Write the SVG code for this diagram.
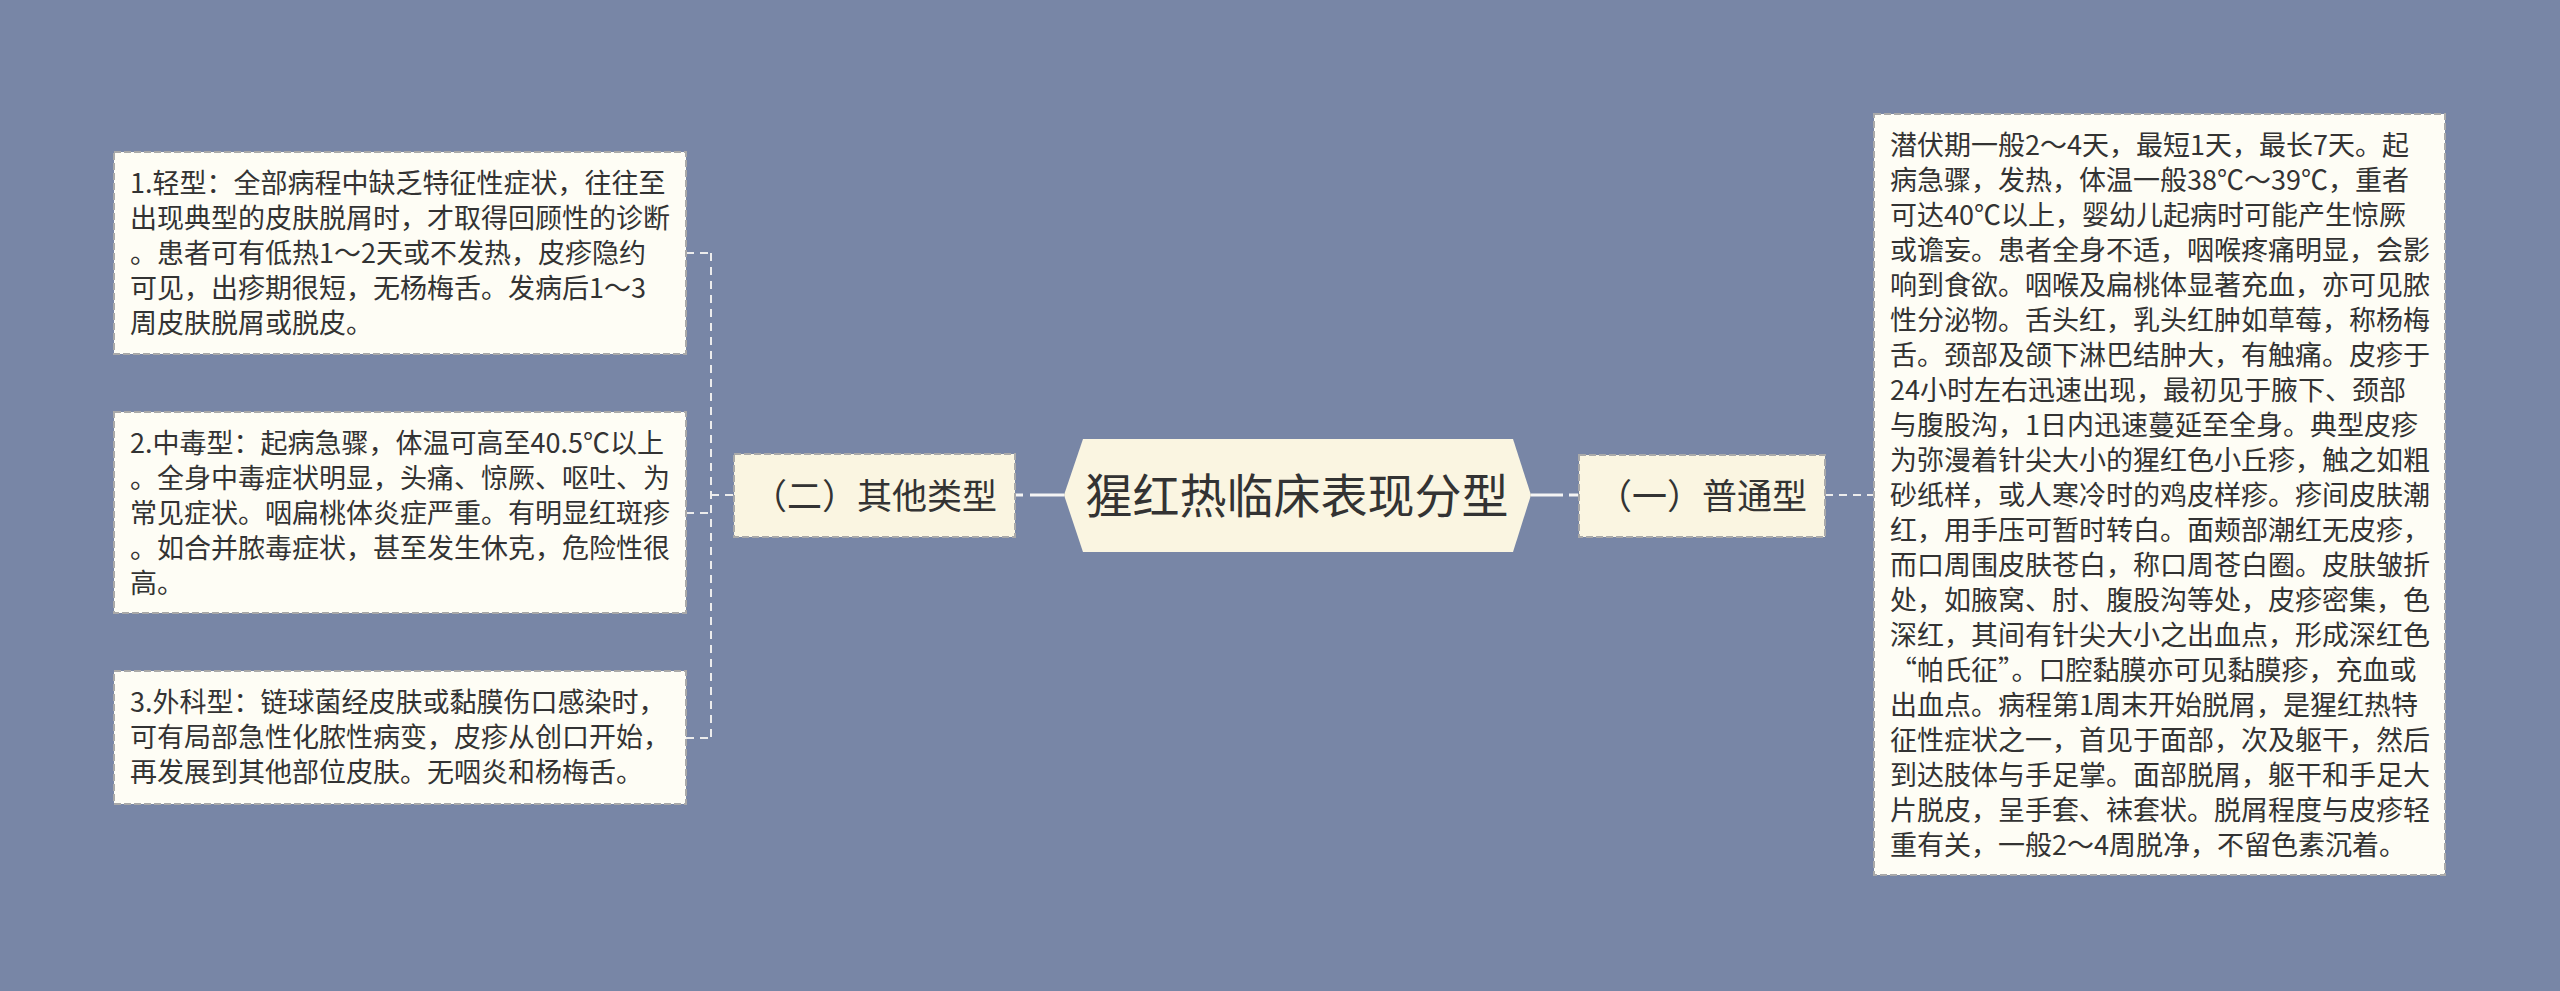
<svg xmlns="http://www.w3.org/2000/svg" width="2560" height="991" viewBox="0 0 2560 991">
<style>
.bg{fill:#7886A6}
.leaf{fill:#FEFDF5;stroke:#A9A9A9;stroke-width:2;stroke-dasharray:7 3}
.mid{fill:#FAF5E1;stroke:#A9A9A9;stroke-width:2;stroke-dasharray:7 3}
.root{fill:#FAF5E1}
.t{font-family:"Noto Sans CJK SC","Noto Sans",sans-serif;fill:#333333}
.s{font-size:27px}
.m{font-size:35px}
.r{font-size:47px}
.dash{fill:none;stroke:#ECECEC;stroke-width:2;stroke-dasharray:8 6}
.solid{fill:none;stroke:#F4F4F4;stroke-width:3}
</style>
<rect class="bg" x="0" y="0" width="2560" height="991"/>
<g id="connectors">
<path class="dash" d="M711 253 V738"/>
<path class="dash" d="M686 253 H711"/>
<path class="dash" d="M686 513 H711"/>
<path class="dash" d="M686 738 H711"/>
<path class="dash" d="M711 495 H734"/>
<path class="solid" d="M1030 495 H1064"/>
<path class="solid" d="M1016 495 H1023"/>
<path class="solid" d="M1531 495 H1563"/>
<path class="solid" d="M1569 495 H1578"/>
<path class="dash" d="M1825 495 H1873"/>
</g>
<g id="root">
<polygon class="root" points="1064,495 1083,439 1513,439 1531,495 1513,552 1083,552"/>
<text class="t r" x="1297" y="513" text-anchor="middle">猩红热临床表现分型</text>
</g>
<g id="n2">
<rect class="mid" x="734" y="454" width="281" height="83"/>
<text class="t m" x="874.5" y="509" text-anchor="middle">（二）其他类型</text>
</g>
<g id="n1">
<rect class="mid" x="1579" y="455" width="246" height="82"/>
<text class="t m" x="1702" y="509" text-anchor="middle">（一）普通型</text>
</g>
<g id="leaf1">
<rect class="leaf" x="114" y="152" width="572" height="202"/>
<text class="t s">
<tspan x="130" y="193">1.轻型：全部病程中缺乏特征性症状，往往至</tspan>
<tspan x="130" y="228">出现典型的皮肤脱屑时，才取得回顾性的诊断</tspan>
<tspan x="130" y="263">。患者可有低热1～2天或不发热，皮疹隐约</tspan>
<tspan x="130" y="298">可见，出疹期很短，无杨梅舌。发病后1～3</tspan>
<tspan x="130" y="333">周皮肤脱屑或脱皮。</tspan>
</text>
</g>
<g id="leaf2">
<rect class="leaf" x="114" y="412" width="572" height="201"/>
<text class="t s">
<tspan x="130" y="453">2.中毒型：起病急骤，体温可高至40.5℃以上</tspan>
<tspan x="130" y="488">。全身中毒症状明显，头痛、惊厥、呕吐、为</tspan>
<tspan x="130" y="523">常见症状。咽扁桃体炎症严重。有明显红斑疹</tspan>
<tspan x="130" y="558">。如合并脓毒症状，甚至发生休克，危险性很</tspan>
<tspan x="130" y="593">高。</tspan>
</text>
</g>
<g id="leaf3">
<rect class="leaf" x="114" y="671" width="572" height="133"/>
<text class="t s">
<tspan x="130" y="712">3.外科型：链球菌经皮肤或黏膜伤口感染时，</tspan>
<tspan x="130" y="747">可有局部急性化脓性病变，皮疹从创口开始，</tspan>
<tspan x="130" y="782">再发展到其他部位皮肤。无咽炎和杨梅舌。</tspan>
</text>
</g>
<g id="leaf4">
<rect class="leaf" x="1874" y="114" width="571" height="761"/>
<text class="t s">
<tspan x="1890" y="155">潜伏期一般2～4天，最短1天，最长7天。起</tspan>
<tspan x="1890" y="190">病急骤，发热，体温一般38℃～39℃，重者</tspan>
<tspan x="1890" y="225">可达40℃以上，婴幼儿起病时可能产生惊厥</tspan>
<tspan x="1890" y="260">或谵妄。患者全身不适，咽喉疼痛明显，会影</tspan>
<tspan x="1890" y="295">响到食欲。咽喉及扁桃体显著充血，亦可见脓</tspan>
<tspan x="1890" y="330">性分泌物。舌头红，乳头红肿如草莓，称杨梅</tspan>
<tspan x="1890" y="365">舌。颈部及颌下淋巴结肿大，有触痛。皮疹于</tspan>
<tspan x="1890" y="400">24小时左右迅速出现，最初见于腋下、颈部</tspan>
<tspan x="1890" y="435">与腹股沟，1日内迅速蔓延至全身。典型皮疹</tspan>
<tspan x="1890" y="470">为弥漫着针尖大小的猩红色小丘疹，触之如粗</tspan>
<tspan x="1890" y="505">砂纸样，或人寒冷时的鸡皮样疹。疹间皮肤潮</tspan>
<tspan x="1890" y="540">红，用手压可暂时转白。面颊部潮红无皮疹，</tspan>
<tspan x="1890" y="575">而口周围皮肤苍白，称口周苍白圈。皮肤皱折</tspan>
<tspan x="1890" y="610">处，如腋窝、肘、腹股沟等处，皮疹密集，色</tspan>
<tspan x="1890" y="645">深红，其间有针尖大小之出血点，形成深红色</tspan>
<tspan x="1890" y="680">“帕氏征”。口腔黏膜亦可见黏膜疹，充血或</tspan>
<tspan x="1890" y="715">出血点。病程第1周末开始脱屑，是猩红热特</tspan>
<tspan x="1890" y="750">征性症状之一，首见于面部，次及躯干，然后</tspan>
<tspan x="1890" y="785">到达肢体与手足掌。面部脱屑，躯干和手足大</tspan>
<tspan x="1890" y="820">片脱皮，呈手套、袜套状。脱屑程度与皮疹轻</tspan>
<tspan x="1890" y="855">重有关，一般2～4周脱净，不留色素沉着。</tspan>
</text>
</g>
</svg>
